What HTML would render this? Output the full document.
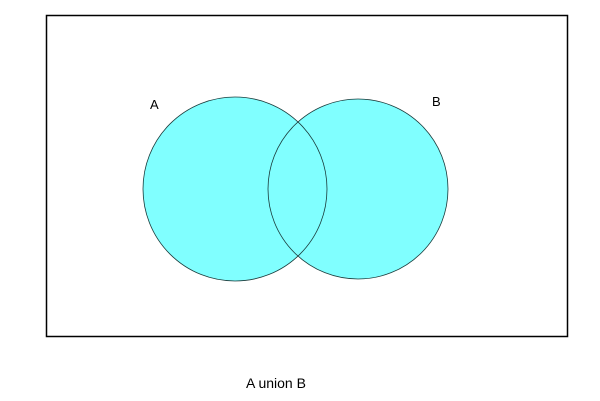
<!DOCTYPE html>
<html><head><style>html,body{margin:0;padding:0;background:#fff;width:600px;height:401px;overflow:hidden}</style></head>
<body>
<svg width="600" height="401" viewBox="0 0 600 401" xmlns="http://www.w3.org/2000/svg">
<rect x="46.5" y="15.5" width="521" height="321" fill="#fff" stroke="#000" stroke-width="1.5"/>
<circle cx="235" cy="189" r="92" fill="#80ffff" stroke="#1a3a3a" stroke-width="0.8"/>
<circle cx="358" cy="189" r="90" fill="#80ffff" stroke="#1a3a3a" stroke-width="0.8"/>
<path d="M 235 97 A 92 92 0 0 1 235 281" fill="none" stroke="#1a3a3a" stroke-width="0.8" clip-path="url(#c)"/>
<defs><clipPath id="c"><circle cx="358" cy="189" r="90"/></clipPath></defs>
<text x="150" y="109" font-family="Liberation Sans, sans-serif" font-size="13">A</text>
<text x="432" y="106" font-family="Liberation Sans, sans-serif" font-size="13">B</text>
<text x="246" y="388" font-family="Liberation Sans, sans-serif" font-size="14">A union B</text>
</svg>
</body></html>
